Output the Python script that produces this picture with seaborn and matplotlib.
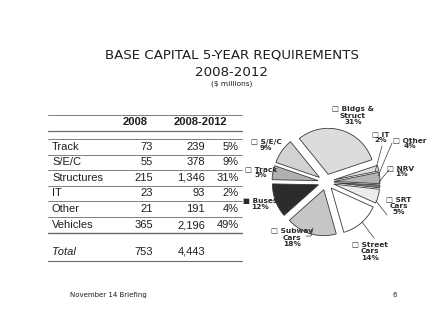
import matplotlib
matplotlib.use("Agg")
import matplotlib.pyplot as plt
import seaborn as sns

# Table data ($ millions)
categories = ["Track", "S/E/C", "Structures", "IT", "Other", "Vehicles"]
cost_2008 = [73, 55, 215, 23, 21, 365]
cost_5yr = [239, 378, 1346, 93, 191, 2196]
share_5yr = [5, 9, 31, 2, 4, 49]
total_2008 = 753
total_5yr = 4443

# Pie data (share of 2008-2012, %)
pie_labels = ["Bldgs &\nStruct", "IT", "Other", "NRV", "SRT\nCars",
              "Street\nCars", "Subway\nCars", "Buses", "Track", "S/E/C"]
pie_share = [31, 2, 4, 1, 5, 14, 18, 12, 5, 9]

sns.set_theme(style="white")
plt.rcParams["font.family"] = ["DejaVu Sans"]

W, H = 435, 336
fig = plt.figure(figsize=(W / 100, H / 100), dpi=100)
ax = fig.add_axes([0, 0, 1, 1])


def Y(y):
    return H - y


ink = "#1e1e1e"

# Titles
ax.text(232, Y(55), "BASE CAPITAL 5-YEAR REQUIREMENTS", ha="center", va="center",
        fontsize=9.6, color=ink)
ax.text(232, Y(72), "2008-2012", ha="center", va="center", fontsize=9.6, color=ink)
ax.text(232, Y(84), "($ millions)", ha="center", va="center", fontsize=5.3, color=ink)

# Table
tfont = dict(family="Liberation Sans", fontsize=8, color=ink)
x0, x1 = 48, 242
c_lab, c_2008, c_5yr, c_pct = 52, 153, 205, 239
rule = "#6a6a6a"
ax.plot([x0, x1], [Y(115), Y(115)], color=rule, lw=0.6)
ax.text(135, Y(122), "2008", ha="center", va="center", fontweight="bold", **tfont)
ax.text(200, Y(122), "2008-2012", ha="center", va="center", fontweight="bold", **tfont)
ax.plot([x0, x1], [Y(131), Y(131)], color=rule, lw=0.9)
ax.plot([x0, x1], [Y(139), Y(139)], color=rule, lw=0.6)

row_y = [147, 162, 178, 193, 209, 225]
for i, (cat, a, b, p) in enumerate(zip(categories, cost_2008, cost_5yr, share_5yr)):
    yy = Y(row_y[i])
    ax.text(c_lab, yy, cat, ha="left", va="center", **tfont)
    ax.text(c_2008, yy, f"{a:,}", ha="right", va="center", **tfont)
    ax.text(c_5yr, yy, f"{b:,}", ha="right", va="center", **tfont)
    ax.text(c_pct, yy, f"{p}%", ha="right", va="center", **tfont)
    if i < len(categories) - 1:
        ly = Y(row_y[i] + 7.8)
        ax.plot([x0, x1], [ly, ly], color=rule, lw=0.6)
ax.plot([x0, x1], [Y(233), Y(233)], color=rule, lw=1.0)
ax.text(c_lab, Y(252), "Total", ha="left", va="center", fontstyle="italic", **tfont)
ax.text(c_2008, Y(252), f"{total_2008:,}", ha="right", va="center", **tfont)
ax.text(c_5yr, Y(252), f"{total_5yr:,}", ha="right", va="center", **tfont)
ax.plot([x0, x1], [Y(261), Y(261)], color=rule, lw=0.8)

# Exploded pie (explode is in data units here: pixels)
pie_colors = ["#dcdcdc", "#e2e2e2", "#b4b4b4", "#7a7a7a", "#ececec",
              "#ffffff", "#c6c6c6", "#2c2c2c", "#b0b0b0", "#d2d2d2"]
ax.pie(pie_share, colors=pie_colors, startangle=129, counterclock=False,
       explode=[8] * len(pie_share), center=(326, Y(182)), radius=46,
       frame=True,
       wedgeprops=dict(edgecolor="#3a3a3a", linewidth=0.6))
ax.set_xlim(0, W)
ax.set_ylim(0, H)
ax.set_aspect("equal")
ax.axis("off")

# Slice labels
label_pos = [(353, 116), (381, 137), (410, 143), (401, 171), (399, 206),
             (370, 251), (292, 238), (260, 204), (261, 172), (266, 145)]
for lab, pct, (lx, ly) in zip(pie_labels, pie_share, label_pos):
    box = "\u25a0" if lab == "Buses" else "\u25a1"
    ax.text(lx, Y(ly), f"{box} {lab}\n{pct}%", ha="center", va="center",
            fontsize=5.3, fontweight="bold", color="#2a2a2a", linespacing=1.1)

# Leader lines
leaders = [
    [(382, 146), (375, 172)],
    [(392, 143), (378, 176)],
    [(389, 170), (379, 182)],
    [(376, 201), (387, 215)],
    [(362, 222), (374, 238)],
    [(306, 236), (311, 236), (313, 228)],
]
for pts in leaders:
    ax.plot([p[0] for p in pts], [Y(p[1]) for p in pts], color="#3a3a3a", lw=0.5)

# Footer
ax.text(70, Y(295), "November 14 Briefing", ha="left", va="center", fontsize=5, color=ink)
ax.text(395, Y(295), "6", ha="center", va="center", fontsize=5, color=ink)

fig.savefig("out.png", dpi=100, facecolor="white")
